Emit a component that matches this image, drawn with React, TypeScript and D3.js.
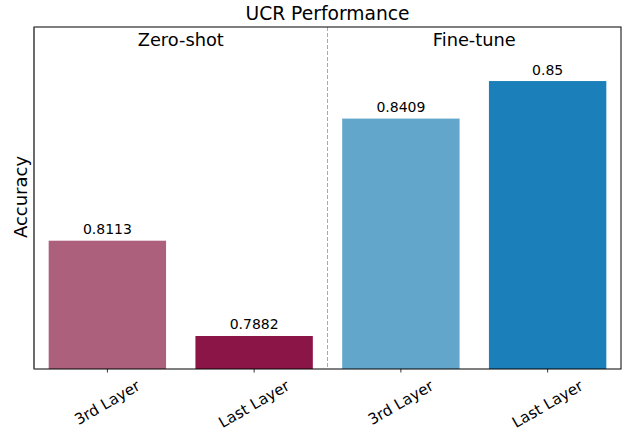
import React from "react";
import * as d3 from "d3";

const categories = ["3rd Layer", "Last Layer", "3rd Layer ", "Last Layer "];
const tickLabels = ["3rd Layer", "Last Layer", "3rd Layer", "Last Layer"];
const values = [0.8113, 0.7882, 0.8409, 0.85];
const valueLabels = ["0.8113", "0.7882", "0.8409", "0.85"];
const colors = ["#AD607C", "#8B1547", "#62A6CB", "#1B80B9"];
const groups = ["Zero-shot", "Fine-tune"];
const yDomain = [0.7802, 0.8631];

const W = 636;
const H = 438;
const m = { left: 34, right: 621, top: 27, bottom: 369 };
const font = "DejaVu Sans, sans-serif";

const emW: Record<string, number> = {
  "3": 0.636, r: 0.411, d: 0.635, " ": 0.318, L: 0.557, a: 0.613, y: 0.592, e: 0.615, s: 0.521, t: 0.392,
};
const textEm = (s: string) => s.split("").reduce((acc, ch) => acc + (emW[ch] ?? 0.6), 0);

export default function App() {
  const x = d3.scaleBand<string>().domain(categories).range([m.left, m.right]).paddingInner(0.2).paddingOuter(0.1);
  const y = d3.scaleLinear().domain(yDomain).range([m.bottom, m.top]);
  const divX = (x(categories[1])! + x.bandwidth() + x(categories[2])!) / 2;
  const tickFs = 15.2;
  return (
    <svg width={W} height={H} style={{ position: "absolute", left: 0, top: 0 }} fontFamily={font}>
      <rect x={0} y={0} width={W} height={H} fill="#fff" />
      {categories.map((c, i) => (
        <rect key={c} x={x(c)!} y={y(values[i])} width={x.bandwidth()} height={m.bottom - y(values[i])} fill={colors[i]} />
      ))}
      {categories.map((c, i) => (
        <text key={"v" + c} x={x(c)! + x.bandwidth() / 2} y={y(values[i]) - 6.5} textAnchor="middle" fontSize={14} fill="#000">
          {valueLabels[i]}
        </text>
      ))}
      <line x1={divX} x2={divX} y1={m.top} y2={m.bottom} stroke="#aaa" strokeWidth={1} strokeDasharray="4,2" />
      <text x={(m.left + divX) / 2} y={46} textAnchor="middle" fontSize={17.8}>{groups[0]}</text>
      <text x={(divX + m.right) / 2} y={46} textAnchor="middle" fontSize={17.8}>{groups[1]}</text>
      <rect x={m.left} y={m.top} width={m.right - m.left} height={m.bottom - m.top} fill="none" stroke="#000" strokeWidth={1} />
      <line x1={m.left} x2={m.left} y1={m.top} y2={m.bottom} stroke="#666" strokeWidth={1.6} />
      {categories.map((c, i) => {
        const cx = x(c)! + x.bandwidth() / 2;
        const w = textEm(tickLabels[i]) * tickFs;
        const cy = 378 + (w * 0.5 + tickFs * 0.866) / 2;
        return (
          <g key={"t" + c}>
            <line x1={cx} x2={cx} y1={m.bottom} y2={m.bottom + 3.5} stroke="#000" strokeWidth={0.8} />
            <text x={cx} y={cy} textAnchor="middle" dominantBaseline="central" fontSize={tickFs} transform={`rotate(-30 ${cx} ${cy})`}>
              {tickLabels[i]}
            </text>
          </g>
        );
      })}
      <text x={27} y={197} textAnchor="middle" fontSize={18} transform={`rotate(-90 27 197)`}>Accuracy</text>
      <text x={(m.left + m.right) / 2} y={20} textAnchor="middle" fontSize={18.7}>UCR Performance</text>
    </svg>
  );
}
